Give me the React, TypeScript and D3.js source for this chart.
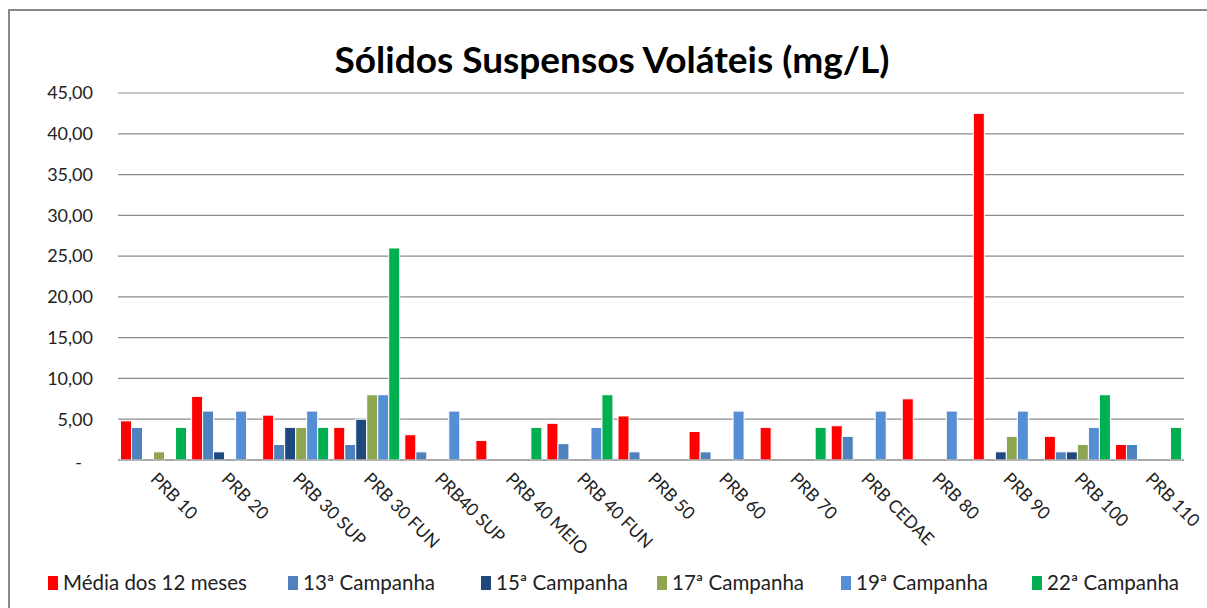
import React, { useEffect } from 'react';
import * as d3 from 'd3';

const categories = [
  'PRB 10', 'PRB 20', 'PRB 30 SUP', 'PRB 30 FUN', 'PRB40 SUP', 'PRB 40 MEIO', 'PRB 40 FUN',
  'PRB 50', 'PRB 60', 'PRB 70', 'PRB CEDAE', 'PRB 80', 'PRB 90', 'PRB 100', 'PRB 110',
];

const seriesNames = [
  'Média dos 12 meses', '13ª Campanha', '15ª Campanha', '17ª Campanha', '19ª Campanha', '22ª Campanha',
];

const media12 = [4.8, 7.8, 5.5, 4.0, 3.1, 2.4, 4.5, 5.4, 3.5, 4.0, 4.2, 7.5, 42.5, 2.9, 1.9];
const camp13 = [4, 6, 1.9, 1.9, 1, null, 2, 1, 1, null, 2.9, null, null, 1, 1.9];
const camp15 = [null, 1, 4, 5, null, null, null, null, null, null, null, null, 1, 1, null];
const camp17 = [1, null, 4, 8, null, null, null, null, null, null, null, null, 2.9, 1.9, null];
const camp19 = [null, 6, 6, 8, 6, null, 4, null, 6, null, 6, 6, 6, 4, null];
const camp22 = [4, null, 4, 26, null, 4, 8, null, null, 4, null, null, null, 8, 4];

const yTicks = [0, 5, 10, 15, 20, 25, 30, 35, 40, 45];

const colors = ['#ff0000', '#4f81bd', '#1f497d', '#8ea64f', '#558ed5', '#00b050'];

const W = 1207;
const H = 608;
const margin = { top: 93, right: 23, bottom: 148, left: 118 };

const App = () => {
  useEffect(() => {
    document.body.style.margin = '0';
  }, []);

  const allSeries = [media12, camp13, camp15, camp17, camp19, camp22];

  const x0 = d3.scaleBand<string>().domain(categories).range([margin.left, W - margin.right]).padding(0);
  const x1 = d3.scaleBand<string>()
    .domain(seriesNames)
    .range([0, x0.bandwidth()])
    .paddingOuter(0.23)
    .paddingInner(0);
  const y = d3.scaleLinear().domain([0, 45]).range([H - margin.bottom, margin.top]);

  const fmt = (v: number) => (v === 0 ? '-' : d3.format('.2f')(v).replace('.', ','));
  const font = 'Lato, "Open Sans", sans-serif';

  // legend item left edges
  const legendX = [48, 288, 481, 657, 841, 1032];

  return (
    <svg width={W} height={H} style={{ display: 'block', background: '#fff' }}>
      <rect x={9} y={10} width={W + 10} height={H + 10} fill="#fff" stroke="#888" strokeWidth={2} />
      <text
        x={612}
        y={73}
        textAnchor="middle"
        fontFamily={font}
        fontWeight="bold"
        fontSize={36}
        textLength={555}
        lengthAdjust="spacingAndGlyphs"
        fill="#000"
      >
        Sólidos Suspensos Voláteis (mg/L)
      </text>

      {yTicks.map((t) => (
        <g key={t}>
          <line x1={margin.left} x2={W - margin.right} y1={y(t)} y2={y(t)} stroke="#8c8c8c" strokeWidth={1.2} />
          <text
            x={t === 0 ? 82 : 93}
            y={y(t) + (t === 0 ? 3 : 0)}
            dy="0.35em"
            textAnchor="end"
            fontFamily={font}
            fontSize={18}
            fill="#222"
          >
            {fmt(t)}
          </text>
        </g>
      ))}

      {categories.map((c, i) => (
        <g key={c} transform={`translate(${x0(c)},0)`}>
          {allSeries.map((s, j) => {
            const v = s[i];
            if (v == null) return null;
            return (
              <rect
                key={j}
                x={x1(seriesNames[j])}
                y={y(v)}
                width={x1.bandwidth()}
                height={y(0) - y(v)}
                fill={colors[j]}
                stroke="#fff"
                strokeWidth={1}
              />
            );
          })}
        </g>
      ))}

      <line x1={margin.left} x2={W - margin.right} y1={y(0)} y2={y(0)} stroke="#8c8c8c" strokeWidth={1.2} />

      {categories.map((c) => {
        const cx = (x0(c) ?? 0) + x0.bandwidth() / 2 - 4;
        const cy = y(0) + 20;
        return (
          <text
            key={c}
            transform={`translate(${cx},${cy}) rotate(45)`}
            fontFamily={font}
            fontSize={17.5}
            fill="#222"
            textAnchor="start"
          >
            {c}
          </text>
        );
      })}

      {seriesNames.map((name, j) => (
        <g key={name} transform={`translate(${legendX[j]},583)`}>
          <rect x={0} y={-7} width={10} height={14} fill={colors[j]} />
          <text x={15} y={0} dy="0.35em" fontFamily={font} fontSize={20.5} fill="#222">
            {name}
          </text>
        </g>
      ))}
    </svg>
  );
};

export default App;
